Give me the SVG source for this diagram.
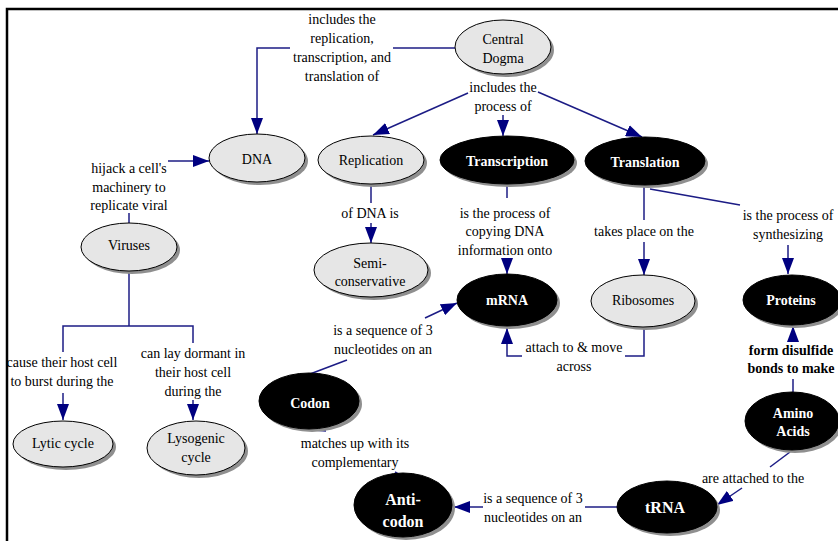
<svg xmlns="http://www.w3.org/2000/svg" width="838" height="541" viewBox="0 0 838 541">
<defs>
<marker id="ah" markerUnits="userSpaceOnUse" markerWidth="16" markerHeight="12" refX="16" refY="6" orient="auto">
<path d="M0,0 L16,6 L0,12 z" fill="#000080"/>
</marker>
<style>
.sh{fill:#8f8f8f}
.g{fill:#e6e6e6;stroke:#000;stroke-width:1}
.k{fill:#000;stroke:#000;stroke-width:1}
text{font-family:"Liberation Serif","Times New Roman",serif;font-size:14px;text-anchor:middle;fill:#000}
.w{fill:#fff;font-weight:bold}
.bd{font-weight:bold}
.c path{stroke:#1c1c85;stroke-width:1.5;fill:none}
.c path.a{marker-end:url(#ah)}
</style>
</defs>
<rect width="838" height="541" fill="#fff"/>
<path d="M7,541 V9 H838" fill="none" stroke="#000" stroke-width="2.5"/>

<g id="connectors" class="c">
<path d="M455,48 H393"/>
<path class="a" d="M290,48 H257 V134"/>
<path class="a" d="M468,93 L373,135"/>
<path class="a" d="M503,115 V136"/>
<path class="a" d="M538,92 L642,137"/>
<path d="M371,184 V203"/>
<path class="a" d="M371,223 V243"/>
<path class="a" d="M168,161 H209"/>
<path d="M129,213 V223"/>
<path d="M129,272 V326"/>
<path d="M63,352 V326 H193 V343"/>
<path class="a" d="M63,393 V420"/>
<path class="a" d="M193,400 V420"/>
<path d="M507,184 V198"/>
<path class="a" d="M507,258 V274"/>
<path d="M644,185 V220"/>
<path class="a" d="M644,242 V275"/>
<path d="M650,189 L740,205"/>
<path class="a" d="M788,245 V274"/>
<path d="M644,327 V356 H625"/>
<path class="a" d="M522,356 H507 V328"/>
<path d="M310,374 L347,360"/>
<path class="a" d="M425,318 L457,303"/>
<path d="M314,430 L326,431"/>
<path d="M395,472 L403,477"/>
<path d="M793,379 V392"/>
<path class="a" d="M793,342 V326"/>
<path d="M790,452 L770,467"/>
<path class="a" d="M742,488 L717,505"/>
<path d="M617,507 H585"/>
<path class="a" d="M483,507 H454"/>
</g>

<g id="labels">
<text x="342" y="24">includes the</text>
<text x="342" y="43">replication,</text>
<text x="342" y="62">transcription, and</text>
<text x="342" y="81">translation of</text>
<text x="503" y="92">includes the</text>
<text x="503" y="111">process of</text>
<text x="370" y="218">of DNA is</text>
<text x="129" y="173">hijack a cell's</text>
<text x="129" y="192">machinery to</text>
<text x="129" y="210">replicate viral</text>
<text x="62" y="367">cause their host cell</text>
<text x="62" y="386">to burst during the</text>
<text x="193" y="358">can lay dormant in</text>
<text x="193" y="377">their host cell</text>
<text x="193" y="396">during the</text>
<text x="505" y="218">is the process of</text>
<text x="505" y="236">copying DNA</text>
<text x="505" y="255">information onto</text>
<text x="644" y="236">takes place on the</text>
<text x="788" y="220">is the process of</text>
<text x="788" y="239">synthesizing</text>
<text x="574" y="352">attach to &amp; move</text>
<text x="574" y="371">across</text>
<text x="383" y="335">is a sequence of 3</text>
<text x="383" y="354">nucleotides on an</text>
<text x="355" y="448">matches up with its</text>
<text x="355" y="467">complementary</text>
<text class="bd" x="791" y="355">form disulfide</text>
<text class="bd" x="791" y="373">bonds to make</text>
<text x="753" y="483">are attached to the</text>
<text x="533" y="503">is a sequence of 3</text>
<text x="533" y="522">nucleotides on an</text>
</g>

<g id="central-dogma">
<ellipse class="sh" cx="506" cy="50" rx="48" ry="27"/>
<ellipse class="g" cx="503" cy="47" rx="48" ry="27"/>
<text x="503" y="44">Central</text>
<text x="503" y="63">Dogma</text>
</g>
<g id="dna">
<ellipse class="sh" cx="260" cy="161" rx="48" ry="24"/>
<ellipse class="g" cx="257" cy="158" rx="48" ry="24"/>
<text x="257" y="164">DNA</text>
</g>
<g id="replication">
<ellipse class="sh" cx="374" cy="163" rx="53" ry="24"/>
<ellipse class="g" cx="371" cy="160" rx="53" ry="24"/>
<text x="371" y="165">Replication</text>
</g>
<g id="transcription">
<ellipse class="sh" cx="510" cy="163" rx="67" ry="24"/>
<ellipse class="k" cx="507" cy="160" rx="67" ry="24"/>
<text class="w" x="507" y="166">Transcription</text>
</g>
<g id="translation">
<ellipse class="sh" cx="648" cy="164" rx="60" ry="24"/>
<ellipse class="k" cx="645" cy="161" rx="60" ry="24"/>
<text class="w" x="645" y="167">Translation</text>
</g>
<g id="viruses">
<ellipse class="sh" cx="132" cy="250" rx="48" ry="24"/>
<ellipse class="g" cx="129" cy="247" rx="48" ry="24"/>
<text x="129" y="250">Viruses</text>
</g>
<g id="semi-conservative">
<ellipse class="sh" cx="374" cy="273" rx="57" ry="27"/>
<ellipse class="g" cx="371" cy="270" rx="57" ry="27"/>
<text x="370" y="268">Semi-</text>
<text x="370" y="286">conservative</text>
</g>
<g id="mrna">
<ellipse class="sh" cx="510" cy="303" rx="50" ry="26"/>
<ellipse class="k" cx="507" cy="300" rx="50" ry="26"/>
<text class="w" x="507" y="305">mRNA</text>
</g>
<g id="ribosomes">
<ellipse class="sh" cx="646" cy="304" rx="52" ry="26"/>
<ellipse class="g" cx="643" cy="301" rx="52" ry="26"/>
<text x="643" y="305">Ribosomes</text>
</g>
<g id="proteins">
<ellipse class="sh" cx="795" cy="303" rx="49" ry="25"/>
<ellipse class="k" cx="792" cy="300" rx="49" ry="25"/>
<text class="w" x="791" y="305">Proteins</text>
</g>
<g id="codon">
<ellipse class="sh" cx="312" cy="404" rx="50" ry="28"/>
<ellipse class="k" cx="309" cy="401" rx="50" ry="28"/>
<text class="w" x="310" y="408">Codon</text>
</g>
<g id="lytic-cycle">
<ellipse class="sh" cx="66" cy="447" rx="50" ry="23"/>
<ellipse class="g" cx="63" cy="444" rx="50" ry="23"/>
<text x="63" y="448">Lytic cycle</text>
</g>
<g id="lysogenic-cycle">
<ellipse class="sh" cx="199" cy="451" rx="49" ry="27"/>
<ellipse class="g" cx="196" cy="448" rx="49" ry="27"/>
<text x="196" y="443">Lysogenic</text>
<text x="196" y="462">cycle</text>
</g>
<g id="amino-acids">
<ellipse class="sh" cx="795" cy="424" rx="47" ry="29"/>
<ellipse class="k" cx="792" cy="421" rx="47" ry="29"/>
<text class="w" x="793" y="418">Amino</text>
<text class="w" x="793" y="436">Acids</text>
</g>
<g id="trna">
<ellipse class="sh" cx="670" cy="510" rx="50" ry="26"/>
<ellipse class="k" cx="667" cy="507" rx="50" ry="26"/>
<text class="w" x="665" y="513" style="font-size:16px">tRNA</text>
</g>
<g id="anti-codon">
<ellipse class="sh" cx="406" cy="508" rx="49" ry="32"/>
<ellipse class="k" cx="403" cy="505" rx="49" ry="32"/>
<text class="w" x="403" y="505" style="font-size:16px">Anti-</text>
<text class="w" x="403" y="527" style="font-size:16px">codon</text>
</g>
</svg>
